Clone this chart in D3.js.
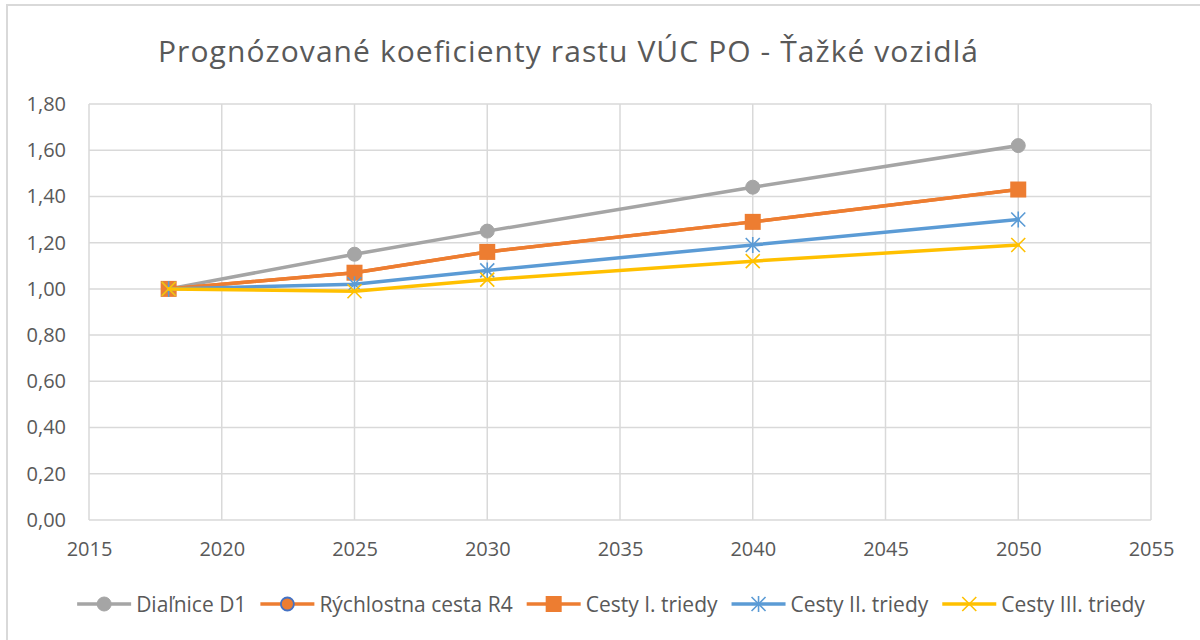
<!DOCTYPE html>
<html>
<head>
<meta charset="utf-8">
<script src="https://cdn.jsdelivr.net/npm/d3@7"></script>
<style>
  html, body { margin: 0; padding: 0; background: #fff; }
  svg { display: block; }
  text { font-family: "Open Sans", Lato, sans-serif; fill: #595959; }
</style>
</head>
<body>
<svg id="chart" width="1200" height="640"></svg>
<script>
// Years of the forecast
const years = [2018, 2025, 2030, 2040, 2050];

// Growth coefficients per road category
const dialnicaD1 = [1.00, 1.15, 1.25, 1.44, 1.62];
const rychlostnaR4 = [1.00, 1.07, 1.16, 1.29, 1.43];
const cestyI = [1.00, 1.07, 1.16, 1.29, 1.43];
const cestyII = [1.00, 1.02, 1.08, 1.19, 1.30];
const cestyIII = [1.00, 0.99, 1.04, 1.12, 1.19];

const seriesNames = ["Diaľnice D1", "Rýchlostna cesta R4", "Cesty I. triedy", "Cesty II. triedy", "Cesty III. triedy"];
const xTicks = [2015, 2020, 2025, 2030, 2035, 2040, 2045, 2050, 2055];
const yTicks = [0, 0.2, 0.4, 0.6, 0.8, 1.0, 1.2, 1.4, 1.6, 1.8];
const titleText = "Prognózované koeficienty rastu VÚC PO - Ťažké vozidlá";

const series = [
  { name: seriesNames[0], values: dialnicaD1, color: "#A5A5A5", marker: "circle" },
  { name: seriesNames[1], values: rychlostnaR4, color: "#ED7D31", marker: "circleBlue" },
  { name: seriesNames[2], values: cestyI, color: "#ED7D31", marker: "square" },
  { name: seriesNames[3], values: cestyII, color: "#5B9BD5", marker: "star" },
  { name: seriesNames[4], values: cestyIII, color: "#FFC000", marker: "cross" }
];

const svg = d3.select("#chart");
const grid = "#D9D9D9";

// Chart frame
svg.append("path")
  .attr("d", "M7,640 V5 H1200")
  .attr("fill", "none").attr("stroke", grid).attr("stroke-width", 2);

const plot = { left: 89, right: 1151, top: 104, bottom: 520 };
const x = d3.scaleLinear().domain([2015, 2055]).range([plot.left, plot.right]);
const y = d3.scaleLinear().domain([0, 1.8]).range([plot.bottom, plot.top]);

// Title, spread to the chart-title width
svg.append("text")
  .attr("x", 568).attr("y", 62)
  .attr("text-anchor", "middle")
  .attr("textLength", 820).attr("lengthAdjust", "spacing")
  .style("font-size", "30px")
  .text(titleText);

// Gridlines
const gridG = svg.append("g");
gridG.selectAll("line.h").data(yTicks).join("line")
  .attr("class", "h")
  .attr("x1", plot.left).attr("x2", plot.right)
  .attr("y1", d => y(d)).attr("y2", d => y(d))
  .attr("stroke", grid).attr("stroke-width", 1.5);
gridG.selectAll("line.v").data(xTicks).join("line")
  .attr("class", "v")
  .attr("y1", plot.top).attr("y2", plot.bottom)
  .attr("x1", d => x(d)).attr("x2", d => x(d))
  .attr("stroke", grid).attr("stroke-width", 1.5);

// Axes (labels only, lines are the gridlines)
const fmt = d => d3.format(".2f")(d).replace(".", ",");
const yAxis = svg.append("g")
  .attr("transform", `translate(${plot.left},0)`)
  .call(d3.axisLeft(y).tickValues(yTicks).tickFormat(fmt).tickSize(0).tickPadding(23));
const xAxis = svg.append("g")
  .attr("transform", `translate(0,${plot.bottom})`)
  .call(d3.axisBottom(x).tickValues(xTicks).tickFormat(d3.format("d")).tickSize(0).tickPadding(22));
[yAxis, xAxis].forEach(a => {
  a.select(".domain").remove();
  a.selectAll("text").style("font-size", "20px").attr("fill", "#595959")
    .style("font-family", "'Open Sans', Lato, sans-serif");
});

// Marker drawing
function drawMarker(g, type, color) {
  if (type === "circle") {
    g.append("circle").attr("r", 7).attr("fill", color).attr("stroke", color);
  } else if (type === "circleBlue") {
    g.append("circle").attr("r", 6.5).attr("fill", color).attr("stroke", "#4472C4").attr("stroke-width", 1.8);
  } else if (type === "square") {
    g.append("rect").attr("x", -8).attr("y", -8).attr("width", 16).attr("height", 16).attr("fill", color);
  } else if (type === "star") {
    const s = 7;
    g.append("path")
      .attr("d", `M${-s},${-s}L${s},${s}M${-s},${s}L${s},${-s}M0,${-s - 1}V${s + 1}`)
      .attr("stroke", color).attr("stroke-width", 1.6).attr("fill", "none");
  } else if (type === "cross") {
    const s = 7;
    g.append("path")
      .attr("d", `M${-s},${-s}L${s},${s}M${-s},${s}L${s},${-s}`)
      .attr("stroke", color).attr("stroke-width", 1.6).attr("fill", "none");
  }
}

const line = d3.line().x(d => x(d[0])).y(d => y(d[1]));

series.forEach(s => {
  const pts = years.map((yr, i) => [yr, s.values[i]]);
  const g = svg.append("g");
  g.append("path").datum(pts)
    .attr("d", line)
    .attr("fill", "none")
    .attr("stroke", s.color)
    .attr("stroke-width", 3.5)
    .attr("stroke-linejoin", "round")
    .attr("stroke-linecap", "round");
  pts.forEach(p => {
    const mg = g.append("g").attr("transform", `translate(${x(p[0])},${y(p[1])})`);
    drawMarker(mg, s.marker, s.color);
  });
});

// Legend
const legendY = 604;
const lineLen = 54;
const legend = svg.append("g");
const items = series.map(s => {
  const g = legend.append("g");
  g.append("line").attr("x1", 0).attr("x2", lineLen).attr("y1", 0).attr("y2", 0)
    .attr("stroke", s.color).attr("stroke-width", 3.5);
  const mg = g.append("g").attr("transform", `translate(${lineLen / 2},0)`);
  drawMarker(mg, s.marker, s.color);
  const t = g.append("text").attr("x", lineLen + 5).attr("y", 7.5).style("font-size", "21px").text(s.name);
  return { g, w: lineLen + 5 + t.node().getComputedTextLength() };
});
const gap = 14;
const total = d3.sum(items, d => d.w) + gap * (items.length - 1);
let cx = 611 - total / 2;
items.forEach(it => {
  it.g.attr("transform", `translate(${cx},${legendY})`);
  cx += it.w + gap;
});
</script>
</body>
</html>
